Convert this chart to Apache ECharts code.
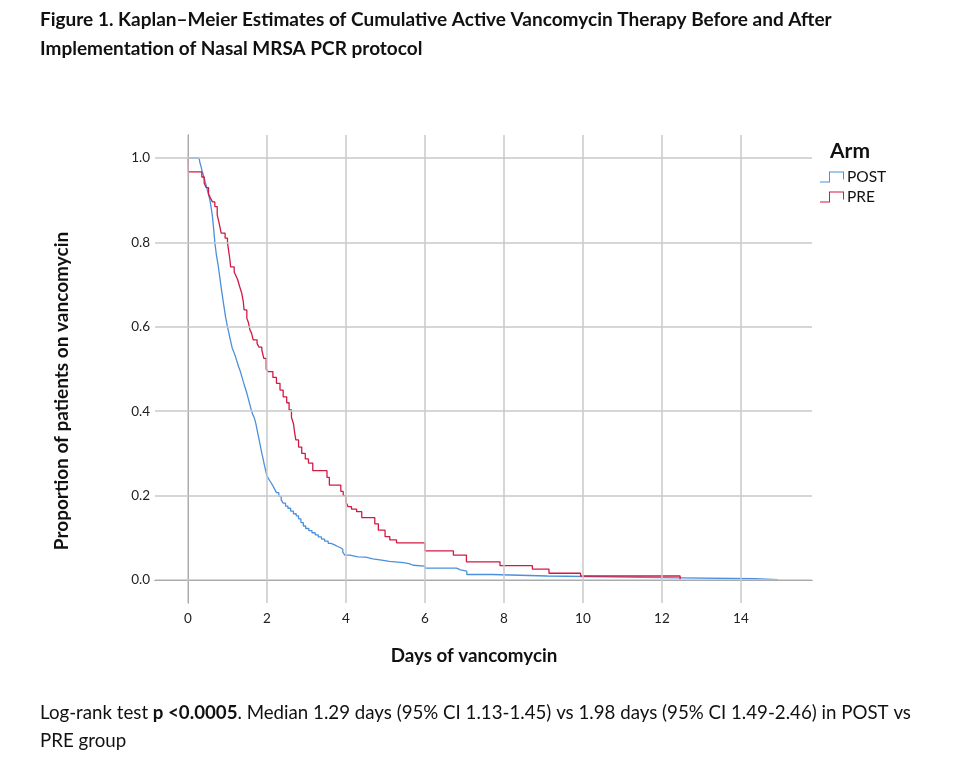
<!DOCTYPE html>
<html>
<head>
<meta charset="utf-8">
<script src="https://cdn.jsdelivr.net/npm/echarts@6/dist/echarts.min.js"></script>
<style>
html,body{margin:0;padding:0;background:#fff;}
#chart{width:960px;height:765px;}
</style>
</head>
<body>
<div id="chart"></div>
<script>
// ---- data ----
const arms = ['POST', 'PRE'];
const xTicks = [0, 2, 4, 6, 8, 10, 12, 14];
const yTicks = [0, 0.2, 0.4, 0.6, 0.8, 1.0];

const postTime = [0, 0.28, 0.30, 0.33, 0.35, 0.38, 0.41, 0.44, 0.47, 0.49, 0.52, 0.54, 0.56, 0.58, 0.60, 0.62, 0.64, 0.66, 0.68, 0.70, 0.72, 0.745, 0.77, 0.79, 0.81, 0.83, 0.85, 0.875, 0.90, 0.925, 0.95, 0.975, 1.00, 1.03, 1.06, 1.09, 1.12, 1.16, 1.20, 1.24, 1.28, 1.32, 1.36, 1.40, 1.44, 1.48, 1.52, 1.56, 1.60, 1.64, 1.68, 1.72, 1.75, 1.78, 1.81, 1.84, 1.87, 1.90, 1.93, 1.96, 1.99, 2.02, 2.06, 2.10, 2.14, 2.19, 2.24, 2.30, 2.36, 2.41, 2.47, 2.53, 2.60, 2.67, 2.74, 2.80, 2.86, 2.92, 2.98, 3.06, 3.14, 3.22, 3.30, 3.38, 3.46, 3.55, 3.62, 3.70, 3.78, 3.85, 3.92, 3.97, 4.10, 4.30, 4.50, 4.68, 4.90, 5.10, 5.45, 5.60, 5.70, 6.00, 6.80, 6.90, 7.06, 7.70, 9.10, 12.50, 14.35, 14.94];
const postSurv = [1.0, 1.0, 0.99, 0.98, 0.972, 0.962, 0.952, 0.942, 0.932, 0.924, 0.913, 0.906, 0.898, 0.886, 0.874, 0.861, 0.842, 0.822, 0.800, 0.785, 0.770, 0.756, 0.742, 0.728, 0.714, 0.700, 0.687, 0.671, 0.655, 0.640, 0.624, 0.612, 0.600, 0.588, 0.574, 0.562, 0.550, 0.540, 0.530, 0.518, 0.506, 0.496, 0.483, 0.470, 0.458, 0.446, 0.432, 0.418, 0.404, 0.392, 0.384, 0.370, 0.356, 0.342, 0.328, 0.314, 0.300, 0.288, 0.274, 0.262, 0.250, 0.243, 0.237, 0.231, 0.225, 0.216, 0.207, 0.198, 0.190, 0.182, 0.175, 0.170, 0.163, 0.157, 0.152, 0.145, 0.136, 0.128, 0.122, 0.117, 0.112, 0.107, 0.102, 0.097, 0.092, 0.087, 0.084, 0.080, 0.077, 0.073, 0.066, 0.059, 0.055, 0.054, 0.050, 0.047, 0.044, 0.041, 0.039, 0.035, 0.033, 0.028, 0.024, 0.021, 0.013, 0.0095, 0.005, 0.003, 0.001, 0.001];

const preTime = [0, 0.01, 0.35, 0.41, 0.46, 0.52, 0.57, 0.62, 0.68, 0.74, 0.79, 0.84, 0.94, 1.00, 1.03, 1.06, 1.08, 1.17, 1.22, 1.26, 1.31, 1.36, 1.40, 1.42, 1.49, 1.53, 1.57, 1.61, 1.65, 1.75, 1.80, 1.87, 1.92, 1.98, 2.03, 2.15, 2.24, 2.33, 2.41, 2.50, 2.56, 2.62, 2.67, 2.70, 2.73, 2.80, 2.88, 2.97, 3.05, 3.16, 3.52, 3.58, 3.87, 3.93, 4.00, 4.05, 4.14, 4.27, 4.40, 4.73, 4.82, 4.99, 5.11, 5.28, 6.00, 6.72, 7.05, 7.90, 8.72, 9.14, 9.94, 12.46];
const preSurv = [1.0, 0.967, 0.955, 0.940, 0.930, 0.915, 0.905, 0.896, 0.885, 0.865, 0.845, 0.822, 0.810, 0.800, 0.780, 0.760, 0.742, 0.730, 0.720, 0.711, 0.695, 0.680, 0.660, 0.640, 0.620, 0.610, 0.592, 0.585, 0.569, 0.560, 0.552, 0.545, 0.525, 0.500, 0.494, 0.480, 0.466, 0.450, 0.434, 0.420, 0.403, 0.385, 0.371, 0.350, 0.332, 0.315, 0.300, 0.287, 0.277, 0.259, 0.243, 0.225, 0.210, 0.200, 0.185, 0.174, 0.168, 0.162, 0.148, 0.133, 0.118, 0.103, 0.095, 0.088, 0.069, 0.059, 0.043, 0.034, 0.026, 0.016, 0.0095, 0.001];

const zip = (a, b) => a.map((v, i) => [v, b[i]]);

const chart = echarts.init(document.getElementById('chart'), null, {renderer: 'canvas'});
const FONT = 'Lato, "Open Sans", sans-serif';
const stepIcon = 'path://M0,10 L9,10 L9,0 L24,0 L24,8 L23,8 L23,1 L10,1 L10,11 L0,11 Z';
const gridColor = '#c9c9c9';

chart.setOption({
  animation: false,
  backgroundColor: '#fff',
  grid: {left: 155, right: 148, top: 135, bottom: 162, containLabel: false},
  xAxis: {
    type: 'value',
    min: -0.835, max: 15.8,
    axisLine: {show: true, lineStyle: {color: '#555', width: 1}},
    axisTick: {show: false},
    splitLine: {show: false},
    axisLabel: {customValues: xTicks, formatter: v => String(v), color: '#222', fontSize: 13.5, fontFamily: FONT, margin: 9}
  },
  yAxis: {
    type: 'value',
    min: -0.0545, max: 1.0545,
    axisLine: {show: true, lineStyle: {color: '#555', width: 1}},
    axisTick: {show: false},
    splitLine: {show: false},
    axisLabel: {customValues: yTicks, formatter: v => v.toFixed(1), color: '#222', fontSize: 13.5, fontFamily: FONT, margin: 5}
  },
  legend: {
    orient: 'vertical', left: 815, top: 164, itemGap: 4,
    itemWidth: 24, itemHeight: 12,
    data: arms.map(a => ({name: a, icon: stepIcon})),
    textStyle: {color: '#111', fontSize: 15.5, fontFamily: FONT, padding: [0, 0, 0, -2]}
  },
  graphic: [
    {type: 'text', x: 40, y: 20, style: {text: 'Figure 1. Kaplan\u2013Meier Estimates of Cumulative Active Vancomycin Therapy Before and After', font: 'bold 19px ' + FONT, fill: '#111', textVerticalAlign: 'middle'}},
    {type: 'text', x: 40, y: 49, style: {text: 'Implementation of Nasal MRSA PCR protocol', font: 'bold 19px ' + FONT, fill: '#111', textVerticalAlign: 'middle'}},
    {type: 'text', x: 830, y: 151, style: {text: 'Arm', font: 'bold 21px ' + FONT, fill: '#111', textVerticalAlign: 'middle'}},
    {type: 'text', x: 474, y: 656, style: {text: 'Days of vancomycin', font: 'bold 18.8px ' + FONT, fill: '#111', textAlign: 'center', textVerticalAlign: 'middle'}},
    {type: 'text', x: 62, y: 391, rotation: Math.PI / 2, style: {text: 'Proportion of patients on vancomycin', font: 'bold 19px ' + FONT, fill: '#111', textAlign: 'center', textVerticalAlign: 'middle'}},
    {type: 'text', x: 40, y: 713, style: {
      text: '{n|Log-rank test }{b|p <0.0005}{n|. Median 1.29 days (95% CI 1.13-1.45) vs 1.98 days (95% CI 1.49-2.46) in POST vs}',
      textVerticalAlign: 'middle',
      rich: {n: {font: '18.7px ' + FONT, fill: '#111'}, b: {font: 'bold 18.7px ' + FONT, fill: '#111'}}
    }},
    {type: 'text', x: 40, y: 741, style: {text: 'PRE group', font: '18.7px ' + FONT, fill: '#111', textVerticalAlign: 'middle'}}
  ],
  series: [
    {
      name: '_grid', type: 'line', data: [[0, 1]], symbol: 'none', silent: true,
      lineStyle: {opacity: 0}, z: 1, legendHoverLink: false,
      markLine: {
        silent: true, symbol: 'none', animation: false,
        label: {show: false},
        lineStyle: {color: gridColor, width: 1.5, type: 'solid'},
        data: xTicks.map(v => ({xAxis: v})).concat(yTicks.map(v => ({yAxis: v})))
      }
    },
    {name: 'POST', type: 'line', step: 'end', data: zip(postTime, postSurv), symbol: 'none', z: 3,
     color: '#4a90dc', lineStyle: {color: '#4a90dc', width: 1.3}},
    {name: 'PRE', type: 'line', step: 'end', data: zip(preTime, preSurv), symbol: 'none', z: 4,
     color: '#d21943', lineStyle: {color: '#d21943', width: 1.3}}
  ]
});
</script>
</body>
</html>
